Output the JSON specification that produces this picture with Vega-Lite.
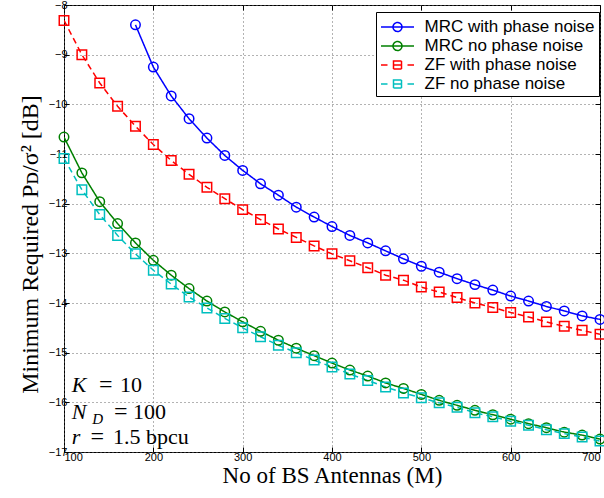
{
  "$schema": "https://vega.github.io/schema/vega-lite/v6.json",
  "autosize": "none",
  "width": 536,
  "height": 447,
  "padding": {"left": 64, "top": 5, "right": 4, "bottom": 46},
  "background": "white",
  "config": {
    "view": {"stroke": "black", "strokeWidth": 1},
    "axis": {
      "labelFont": "Liberation Sans", "labelFontSize": 11, "labelColor": "black",
      "titleFont": "Liberation Serif", "titleFontSize": 23, "titleFontWeight": "normal", "titleColor": "black",
      "gridColor": "#666", "gridDash": [1, 3], "gridWidth": 1, "tickColor": "black", "domain": false
    }
  },
  "datasets": {
    "curves": [
      {"series": "MRC with phase noise", "method": "MRC", "M": 180, "v": -8.40},
      {"series": "MRC with phase noise", "method": "MRC", "M": 200, "v": -9.25},
      {"series": "MRC with phase noise", "method": "MRC", "M": 220, "v": -9.83},
      {"series": "MRC with phase noise", "method": "MRC", "M": 240, "v": -10.29},
      {"series": "MRC with phase noise", "method": "MRC", "M": 260, "v": -10.68},
      {"series": "MRC with phase noise", "method": "MRC", "M": 280, "v": -11.03},
      {"series": "MRC with phase noise", "method": "MRC", "M": 300, "v": -11.33},
      {"series": "MRC with phase noise", "method": "MRC", "M": 320, "v": -11.60},
      {"series": "MRC with phase noise", "method": "MRC", "M": 340, "v": -11.83},
      {"series": "MRC with phase noise", "method": "MRC", "M": 360, "v": -12.07},
      {"series": "MRC with phase noise", "method": "MRC", "M": 380, "v": -12.27},
      {"series": "MRC with phase noise", "method": "MRC", "M": 400, "v": -12.46},
      {"series": "MRC with phase noise", "method": "MRC", "M": 420, "v": -12.64},
      {"series": "MRC with phase noise", "method": "MRC", "M": 440, "v": -12.79},
      {"series": "MRC with phase noise", "method": "MRC", "M": 460, "v": -12.95},
      {"series": "MRC with phase noise", "method": "MRC", "M": 480, "v": -13.11},
      {"series": "MRC with phase noise", "method": "MRC", "M": 500, "v": -13.26},
      {"series": "MRC with phase noise", "method": "MRC", "M": 520, "v": -13.38},
      {"series": "MRC with phase noise", "method": "MRC", "M": 540, "v": -13.51},
      {"series": "MRC with phase noise", "method": "MRC", "M": 560, "v": -13.63},
      {"series": "MRC with phase noise", "method": "MRC", "M": 580, "v": -13.74},
      {"series": "MRC with phase noise", "method": "MRC", "M": 600, "v": -13.86},
      {"series": "MRC with phase noise", "method": "MRC", "M": 620, "v": -13.96},
      {"series": "MRC with phase noise", "method": "MRC", "M": 640, "v": -14.07},
      {"series": "MRC with phase noise", "method": "MRC", "M": 660, "v": -14.16},
      {"series": "MRC with phase noise", "method": "MRC", "M": 680, "v": -14.26},
      {"series": "MRC with phase noise", "method": "MRC", "M": 700, "v": -14.33},
      {"series": "MRC no phase noise", "method": "MRC", "M": 100, "v": -10.66},
      {"series": "MRC no phase noise", "method": "MRC", "M": 120, "v": -11.38},
      {"series": "MRC no phase noise", "method": "MRC", "M": 140, "v": -11.96},
      {"series": "MRC no phase noise", "method": "MRC", "M": 160, "v": -12.40},
      {"series": "MRC no phase noise", "method": "MRC", "M": 180, "v": -12.79},
      {"series": "MRC no phase noise", "method": "MRC", "M": 200, "v": -13.14},
      {"series": "MRC no phase noise", "method": "MRC", "M": 220, "v": -13.44},
      {"series": "MRC no phase noise", "method": "MRC", "M": 240, "v": -13.71},
      {"series": "MRC no phase noise", "method": "MRC", "M": 260, "v": -13.96},
      {"series": "MRC no phase noise", "method": "MRC", "M": 280, "v": -14.18},
      {"series": "MRC no phase noise", "method": "MRC", "M": 300, "v": -14.38},
      {"series": "MRC no phase noise", "method": "MRC", "M": 320, "v": -14.57},
      {"series": "MRC no phase noise", "method": "MRC", "M": 340, "v": -14.75},
      {"series": "MRC no phase noise", "method": "MRC", "M": 360, "v": -14.91},
      {"series": "MRC no phase noise", "method": "MRC", "M": 380, "v": -15.06},
      {"series": "MRC no phase noise", "method": "MRC", "M": 400, "v": -15.21},
      {"series": "MRC no phase noise", "method": "MRC", "M": 420, "v": -15.35},
      {"series": "MRC no phase noise", "method": "MRC", "M": 440, "v": -15.47},
      {"series": "MRC no phase noise", "method": "MRC", "M": 460, "v": -15.61},
      {"series": "MRC no phase noise", "method": "MRC", "M": 480, "v": -15.72},
      {"series": "MRC no phase noise", "method": "MRC", "M": 500, "v": -15.84},
      {"series": "MRC no phase noise", "method": "MRC", "M": 520, "v": -15.96},
      {"series": "MRC no phase noise", "method": "MRC", "M": 540, "v": -16.06},
      {"series": "MRC no phase noise", "method": "MRC", "M": 560, "v": -16.16},
      {"series": "MRC no phase noise", "method": "MRC", "M": 580, "v": -16.25},
      {"series": "MRC no phase noise", "method": "MRC", "M": 600, "v": -16.34},
      {"series": "MRC no phase noise", "method": "MRC", "M": 620, "v": -16.43},
      {"series": "MRC no phase noise", "method": "MRC", "M": 640, "v": -16.51},
      {"series": "MRC no phase noise", "method": "MRC", "M": 660, "v": -16.60},
      {"series": "MRC no phase noise", "method": "MRC", "M": 680, "v": -16.66},
      {"series": "MRC no phase noise", "method": "MRC", "M": 700, "v": -16.74},
      {"series": "ZF with phase noise", "method": "ZF", "M": 100, "v": -8.31},
      {"series": "ZF with phase noise", "method": "ZF", "M": 120, "v": -9.00},
      {"series": "ZF with phase noise", "method": "ZF", "M": 140, "v": -9.57},
      {"series": "ZF with phase noise", "method": "ZF", "M": 160, "v": -10.04},
      {"series": "ZF with phase noise", "method": "ZF", "M": 180, "v": -10.44},
      {"series": "ZF with phase noise", "method": "ZF", "M": 200, "v": -10.81},
      {"series": "ZF with phase noise", "method": "ZF", "M": 220, "v": -11.13},
      {"series": "ZF with phase noise", "method": "ZF", "M": 240, "v": -11.41},
      {"series": "ZF with phase noise", "method": "ZF", "M": 260, "v": -11.67},
      {"series": "ZF with phase noise", "method": "ZF", "M": 280, "v": -11.90},
      {"series": "ZF with phase noise", "method": "ZF", "M": 300, "v": -12.12},
      {"series": "ZF with phase noise", "method": "ZF", "M": 320, "v": -12.32},
      {"series": "ZF with phase noise", "method": "ZF", "M": 340, "v": -12.51},
      {"series": "ZF with phase noise", "method": "ZF", "M": 360, "v": -12.68},
      {"series": "ZF with phase noise", "method": "ZF", "M": 380, "v": -12.85},
      {"series": "ZF with phase noise", "method": "ZF", "M": 400, "v": -13.01},
      {"series": "ZF with phase noise", "method": "ZF", "M": 420, "v": -13.15},
      {"series": "ZF with phase noise", "method": "ZF", "M": 440, "v": -13.29},
      {"series": "ZF with phase noise", "method": "ZF", "M": 460, "v": -13.44},
      {"series": "ZF with phase noise", "method": "ZF", "M": 480, "v": -13.54},
      {"series": "ZF with phase noise", "method": "ZF", "M": 500, "v": -13.68},
      {"series": "ZF with phase noise", "method": "ZF", "M": 520, "v": -13.78},
      {"series": "ZF with phase noise", "method": "ZF", "M": 540, "v": -13.89},
      {"series": "ZF with phase noise", "method": "ZF", "M": 560, "v": -14.00},
      {"series": "ZF with phase noise", "method": "ZF", "M": 580, "v": -14.09},
      {"series": "ZF with phase noise", "method": "ZF", "M": 600, "v": -14.19},
      {"series": "ZF with phase noise", "method": "ZF", "M": 620, "v": -14.28},
      {"series": "ZF with phase noise", "method": "ZF", "M": 640, "v": -14.38},
      {"series": "ZF with phase noise", "method": "ZF", "M": 660, "v": -14.47},
      {"series": "ZF with phase noise", "method": "ZF", "M": 680, "v": -14.55},
      {"series": "ZF with phase noise", "method": "ZF", "M": 700, "v": -14.63},
      {"series": "ZF no phase noise", "method": "ZF", "M": 100, "v": -11.09},
      {"series": "ZF no phase noise", "method": "ZF", "M": 120, "v": -11.72},
      {"series": "ZF no phase noise", "method": "ZF", "M": 140, "v": -12.22},
      {"series": "ZF no phase noise", "method": "ZF", "M": 160, "v": -12.64},
      {"series": "ZF no phase noise", "method": "ZF", "M": 180, "v": -13.01},
      {"series": "ZF no phase noise", "method": "ZF", "M": 200, "v": -13.34},
      {"series": "ZF no phase noise", "method": "ZF", "M": 220, "v": -13.62},
      {"series": "ZF no phase noise", "method": "ZF", "M": 240, "v": -13.88},
      {"series": "ZF no phase noise", "method": "ZF", "M": 260, "v": -14.10},
      {"series": "ZF no phase noise", "method": "ZF", "M": 280, "v": -14.31},
      {"series": "ZF no phase noise", "method": "ZF", "M": 300, "v": -14.50},
      {"series": "ZF no phase noise", "method": "ZF", "M": 320, "v": -14.68},
      {"series": "ZF no phase noise", "method": "ZF", "M": 340, "v": -14.85},
      {"series": "ZF no phase noise", "method": "ZF", "M": 360, "v": -15.00},
      {"series": "ZF no phase noise", "method": "ZF", "M": 380, "v": -15.15},
      {"series": "ZF no phase noise", "method": "ZF", "M": 400, "v": -15.29},
      {"series": "ZF no phase noise", "method": "ZF", "M": 420, "v": -15.43},
      {"series": "ZF no phase noise", "method": "ZF", "M": 440, "v": -15.56},
      {"series": "ZF no phase noise", "method": "ZF", "M": 460, "v": -15.69},
      {"series": "ZF no phase noise", "method": "ZF", "M": 480, "v": -15.81},
      {"series": "ZF no phase noise", "method": "ZF", "M": 500, "v": -15.91},
      {"series": "ZF no phase noise", "method": "ZF", "M": 520, "v": -16.01},
      {"series": "ZF no phase noise", "method": "ZF", "M": 540, "v": -16.10},
      {"series": "ZF no phase noise", "method": "ZF", "M": 560, "v": -16.21},
      {"series": "ZF no phase noise", "method": "ZF", "M": 580, "v": -16.29},
      {"series": "ZF no phase noise", "method": "ZF", "M": 600, "v": -16.38},
      {"series": "ZF no phase noise", "method": "ZF", "M": 620, "v": -16.46},
      {"series": "ZF no phase noise", "method": "ZF", "M": 640, "v": -16.55},
      {"series": "ZF no phase noise", "method": "ZF", "M": 660, "v": -16.63},
      {"series": "ZF no phase noise", "method": "ZF", "M": 680, "v": -16.70},
      {"series": "ZF no phase noise", "method": "ZF", "M": 700, "v": -16.78}
    ],
    "italic": [
      {"t": "K", "M": 108.6, "v": -15.787},
      {"t": "N", "M": 108.6, "v": -16.33},
      {"t": "r", "M": 108.6, "v": -16.843}
    ],
    "sub": [
      {"t": "D", "M": 131.5, "v": -16.43}
    ],
    "eq": [
      {"t": "=", "M": 146.8, "v": -15.787},
      {"t": "=", "M": 163.5, "v": -16.33},
      {"t": "=", "M": 137.3, "v": -16.843}
    ],
    "nums": [
      {"t": "10", "M": 162.7, "v": -15.787},
      {"t": "100", "M": 177.2, "v": -16.33},
      {"t": "1.5 bpcu", "M": 154.9, "v": -16.843}
    ]
  },
  "resolve": {"axis": {"x": "independent", "y": "independent"}},
  "layer": [
    {
      "data": {"name": "curves"},
      "mark": {"type": "line", "strokeWidth": 1.5, "clip": true},
      "encoding": {
        "x": {"field": "M", "type": "quantitative",
              "scale": {"domain": [100, 700], "nice": false, "zero": false},
              "axis": {"orient": "bottom", "values": [100, 200, 300, 400, 500, 600, 700], "tickSize": -5, "labelPadding": 4,
                       "title": "No of BS Antennas (M)", "titlePadding": 2, "grid": true}},
        "y": {"field": "v", "type": "quantitative",
              "scale": {"domain": [-17, -8], "nice": false, "zero": false},
              "axis": {"orient": "left", "values": [-17, -16, -15, -14, -13, -12, -11, -10, -9, -8], "tickSize": -5, "labelPadding": 2,
                       "title": "Minimum Required Pᴅ/σ² [dB]", "titleFontSize": 24, "titlePadding": 6, "titleY": 239, "grid": true}},
        "color": {"field": "series", "type": "nominal",
                  "scale": {"domain": ["MRC with phase noise", "MRC no phase noise", "ZF with phase noise", "ZF no phase noise"],
                            "range": ["#0000ff", "#008000", "#ff0000", "#00bfbf"]},
                  "legend": {"title": null, "orient": "none", "legendX": 312, "legendY": 7,
                             "labelFont": "Liberation Sans", "labelFontSize": 17, "labelColor": "black", "labelLimit": 400,
                             "symbolSize": 400, "symbolStrokeWidth": 1.5, "symbolOffset": 6.5, "labelOffset": 16,
                             "padding": 4, "rowPadding": 0, "strokeColor": "black", "fillColor": "white",
                             "encode": {"symbols": {"update": {
                               "shape": {"signal": "test(/^MRC/, datum.value) ? 'M-1.65,0H1.65M0.45,0A0.45,0.45 0 1,1 -0.45,0A0.45,0.45 0 1,1 0.45,0' : 'M-1.65,0H-1.0M-0.4,0H0.4M1.0,0H1.65M-0.4,-0.4H0.4V0.4H-0.4Z'"},
                               "fill": {"value": "transparent"},
                               "strokeDash": {"value": [1, 0]}
                             }}}}},
        "strokeDash": {"field": "method", "type": "nominal",
                       "scale": {"domain": ["MRC", "ZF"], "range": [[1, 0], [6, 4]]},
                       "legend": null}
      }
    },
    {
      "data": {"name": "curves"},
      "mark": {"type": "point", "filled": false, "strokeWidth": 1.5, "opacity": 1, "size": 90, "clip": false},
      "encoding": {
        "x": {"field": "M", "type": "quantitative",
              "axis": {"orient": "top", "values": [100, 200, 300, 400, 500, 600, 700], "labels": false, "tickSize": -5, "grid": false, "title": null}},
        "y": {"field": "v", "type": "quantitative",
              "axis": {"orient": "right", "values": [-17, -16, -15, -14, -13, -12, -11, -10, -9, -8], "labels": false, "tickSize": -5, "grid": false, "title": null}},
        "stroke": {"field": "series", "type": "nominal",
                   "scale": {"domain": ["MRC with phase noise", "MRC no phase noise", "ZF with phase noise", "ZF no phase noise"],
                             "range": ["#0000ff", "#008000", "#ff0000", "#00bfbf"]},
                   "legend": null},
        "shape": {"field": "method", "type": "nominal",
                  "scale": {"domain": ["MRC", "ZF"], "range": ["circle", "square"]},
                  "legend": null}
      }
    },
    {
      "data": {"name": "italic"},
      "mark": {"type": "text", "font": "Liberation Serif", "fontStyle": "italic", "fontSize": 22, "align": "left", "baseline": "alphabetic", "color": "black"},
      "encoding": {
        "x": {"field": "M", "type": "quantitative", "axis": null},
        "y": {"field": "v", "type": "quantitative", "axis": null},
        "text": {"field": "t"}
      }
    },
    {
      "data": {"name": "sub"},
      "mark": {"type": "text", "font": "Liberation Serif", "fontStyle": "italic", "fontSize": 15, "align": "left", "baseline": "alphabetic", "color": "black"},
      "encoding": {
        "x": {"field": "M", "type": "quantitative", "axis": null},
        "y": {"field": "v", "type": "quantitative", "axis": null},
        "text": {"field": "t"}
      }
    },
    {
      "data": {"name": "eq"},
      "mark": {"type": "text", "font": "Liberation Serif", "fontSize": 24, "align": "center", "baseline": "alphabetic", "color": "black"},
      "encoding": {
        "x": {"field": "M", "type": "quantitative", "axis": null},
        "y": {"field": "v", "type": "quantitative", "axis": null},
        "text": {"field": "t"}
      }
    },
    {
      "data": {"name": "nums"},
      "mark": {"type": "text", "font": "Liberation Serif", "fontSize": 22, "align": "left", "baseline": "alphabetic", "color": "black"},
      "encoding": {
        "x": {"field": "M", "type": "quantitative", "axis": null},
        "y": {"field": "v", "type": "quantitative", "axis": null},
        "text": {"field": "t"}
      }
    }
  ]
}
